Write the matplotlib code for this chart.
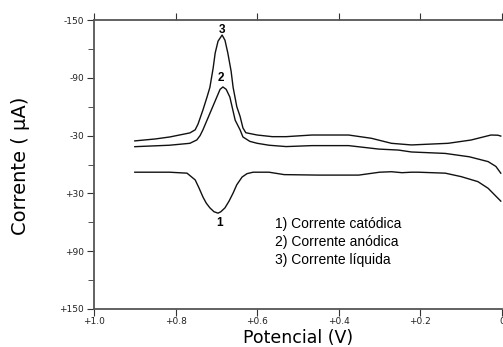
import numpy as np
import matplotlib
matplotlib.use("Agg")
import matplotlib.pyplot as plt
from matplotlib.ticker import FixedLocator, FuncFormatter

# 1) cathodic current
pot_cat = [0.900, 0.815, 0.772, 0.752, 0.743, 0.733, 0.725, 0.716, 0.706, 0.696,
           0.689, 0.679, 0.669, 0.659, 0.650, 0.637, 0.625, 0.610, 0.571, 0.534,
           0.450, 0.351, 0.300, 0.271, 0.245, 0.222, 0.205, 0.139, 0.100, 0.059,
           0.034, 0.010, 0.003]
cur_cat = [8, 8, 9, 16, 24, 33.7, 40, 45, 49, 50.5,
           49, 45, 38, 29.6, 21, 13, 9.5, 8, 8, 10.5,
           11, 11, 8, 7.5, 8.5, 8, 8, 9, 12.6, 17.8,
           24.7, 35, 38]

# 2) anodic current
pot_ano = [0.900, 0.815, 0.765, 0.748, 0.740, 0.733, 0.716, 0.699, 0.691, 0.684,
           0.676, 0.667, 0.654, 0.642, 0.635, 0.618, 0.600, 0.571, 0.529, 0.466,
           0.376, 0.302, 0.254, 0.222, 0.139, 0.080, 0.034, 0.015, 0.003]
cur_ano = [-18.5, -20, -22, -25.5, -30, -36, -53, -70, -78, -80.5,
           -78, -70, -46, -36, -28.6, -24, -22, -20, -18.6, -19.6,
           -19.6, -16, -15, -13, -11.5, -8, -3, 2, 9]

# 3) net current
pot_net = [0.900, 0.850, 0.814, 0.765, 0.752, 0.745, 0.733, 0.723, 0.716, 0.708,
           0.703, 0.696, 0.686, 0.679, 0.672, 0.664, 0.659, 0.650, 0.642, 0.635,
           0.628, 0.600, 0.563, 0.529, 0.466, 0.376, 0.320, 0.271, 0.222, 0.132,
           0.076, 0.027, 0.010, 0.003]
cur_net = [-24.5, -26.5, -28.6, -32.8, -36, -42, -56.6, -70, -80, -100,
           -115.7, -128, -134.4, -129, -115.7, -97, -80, -60, -50, -38,
           -33, -30.6, -28.9, -28.9, -30.6, -30.6, -27.2, -22, -20.3, -22,
           -25.4, -30.6, -30.4, -29.5]

peak_labels = ["1", "2", "3"]
peak_pos = [(0.692, 61), (0.690, -90), (0.686, -140)]
legend_lines = ["1) Corrente catódica", "2) Corrente anódica", "3) Corrente líquida"]

y_major = [-150, -90, -30, 30, 90, 150]
y_minor = [-120, -60, 0, 60, 120]
x_major = [1.0, 0.8, 0.6, 0.4, 0.2, 0.0]

plt.rcParams['font.family'] = ['Liberation Sans', 'DejaVu Sans']

fig = plt.figure(figsize=(5.03, 3.47), dpi=100, facecolor='white')
ax = fig.add_axes([94 / 503, 38 / 347, 408 / 503, 289 / 347])

for p, c in [(pot_cat, cur_cat), (pot_ano, cur_ano), (pot_net, cur_net)]:
    ax.plot(p, c, color='#111111', linewidth=1.0)

ax.set_xlim(1.0, 0.0)
ax.set_ylim(150, -150)

ax.yaxis.set_major_locator(FixedLocator(y_major))
ax.yaxis.set_minor_locator(FixedLocator(y_minor))
ax.xaxis.set_major_locator(FixedLocator(x_major))
ax.yaxis.set_major_formatter(FuncFormatter(lambda v, _: f"{v:+.0f}"))
ax.xaxis.set_major_formatter(FuncFormatter(lambda v, _: "0" if v == 0 else f"{v:+.1f}"))

ax.spines['right'].set_visible(False)
for s in ['left', 'bottom', 'top']:
    ax.spines[s].set_color('#555555')
    ax.spines[s].set_linewidth(1.3)

ax.tick_params(axis='both', which='both', direction='out', colors='#333333',
               labelsize=6.5, labelcolor='#222222')
for t in ax.get_xticklabels() + ax.get_yticklabels():
    t.set_family('DejaVu Sans')
ax.tick_params(axis='y', which='major', length=5, pad=2)
ax.tick_params(axis='y', which='minor', length=4)
ax.tick_params(axis='x', which='major', length=5, pad=1, top=True)

for lab, (px, py) in zip(peak_labels, peak_pos):
    ax.text(px, py, lab, ha='center', va='center', fontsize=8.5, fontweight='bold')

for i, line in enumerate(legend_lines):
    ax.text(0.556, 62 + i * 18.5, line, ha='left', va='center', fontsize=10)

fig.text(298 / 503, 1 - 338 / 347, "Potencial (V)", ha='center', va='center',
         fontsize=12.5, family='DejaVu Sans')
fig.text(21 / 503, 1 - 166 / 347, "Corrente ( \u00b5A)", ha='center', va='center',
         rotation=90, fontsize=14, family='DejaVu Sans')

fig.savefig("out.png", dpi=100, facecolor='white')
